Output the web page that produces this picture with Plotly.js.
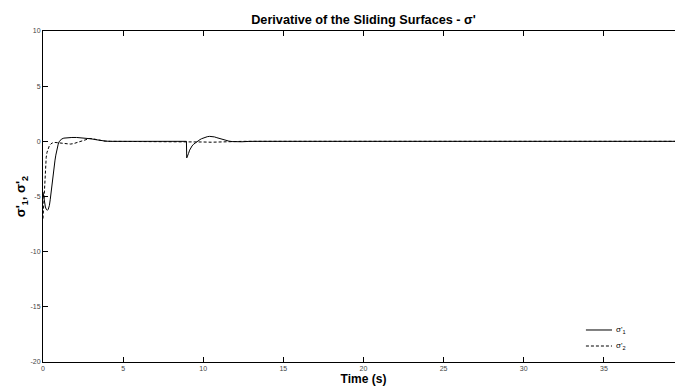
<!DOCTYPE html>
<html>
<head>
<meta charset="utf-8">
<script src="https://cdn.plot.ly/plotly-3.0.1.min.js"></script>
<style>
  html, body { margin: 0; padding: 0; overflow: hidden; background: #fff; }
  #chart { width: 700px; height: 388px; }
</style>
</head>
<body>
<div id="chart"></div>
<script>
// Derivative of the sliding surfaces over time
const t1 = [0, 0.05, 0.1, 0.15, 0.2, 0.27, 0.33, 0.4, 0.45, 0.5, 0.55, 0.6, 0.65, 0.7, 0.75, 0.8, 0.85, 0.9, 0.95, 1.0,
            1.05, 1.15, 1.3, 1.5, 1.8, 2.1, 2.4, 2.7, 3.0, 3.3, 3.6, 3.9, 4.2,
            8.95, 8.97, 9.02, 9.08, 9.15, 9.22, 9.3, 9.4, 9.5, 9.6, 9.7, 9.8, 9.9, 10.0, 10.1, 10.25, 10.4, 10.55,
            10.7, 10.85, 11.0, 11.15, 11.3, 11.45, 11.6, 11.8, 12.0, 12.4, 12.8, 13.2, 40];
const sigma1 = [-4.6, -5.2, -5.65, -5.95, -6.15, -6.25, -6.15, -5.8, -5.3, -4.6, -3.9, -3.3, -2.7, -2.2, -1.7, -1.25, -0.85, -0.52, -0.25, -0.05,
                0.08, 0.2, 0.29, 0.34, 0.35, 0.35, 0.33, 0.29, 0.23, 0.15, 0.07, 0.02, 0,
                0, -1.5, -1.35, -1.1, -0.8, -0.58, -0.42, -0.26, -0.14, -0.03, 0.07, 0.16, 0.24, 0.31, 0.36, 0.42, 0.45, 0.44,
                0.4, 0.33, 0.26, 0.19, 0.12, 0.06, 0.02, -0.02, -0.04, -0.04, -0.01, 0, 0];

const t2 = [0, 0.03, 0.06, 0.09, 0.12, 0.16, 0.2, 0.25, 0.3, 0.35, 0.4, 0.5, 0.6, 0.75, 0.9, 1.1, 1.3, 1.5, 1.7, 1.9,
            2.1, 2.3, 2.5, 2.7, 2.9, 3.1, 3.3, 3.5, 3.8, 4.2,
            9, 9.5, 10, 10.5, 11, 11.5, 12, 12.5, 40];
const sigma2 = [-7.0, -6.0, -4.8, -3.7, -2.8, -2.0, -1.45, -1.0, -0.72, -0.52, -0.38, -0.22, -0.14, -0.1, -0.12, -0.17, -0.22, -0.25, -0.25, -0.21,
                -0.12, 0.0, 0.12, 0.21, 0.25, 0.23, 0.16, 0.09, 0.03, 0,
                0, -0.03, -0.06, -0.08, -0.07, -0.05, -0.02, 0, 0];

const xTicks = [0, 5, 10, 15, 20, 25, 30, 35];
const yTicks = [-20, -15, -10, -5, 0, 5, 10];
const seriesNames = ["σ'<sub>1</sub>", "σ'<sub>2</sub>"];

const fontFamily = 'Liberation Sans, Arial, sans-serif';

const traces = [
  {
    x: t1, y: sigma1, type: 'scatter', mode: 'lines',
    name: seriesNames[0], showlegend: false,
    line: { color: '#000', width: 1 }
  },
  {
    x: t2, y: sigma2, type: 'scatter', mode: 'lines',
    name: seriesNames[1], showlegend: false,
    line: { color: '#000', width: 1, dash: '3px,2px' }
  }
];

const axisCommon = {
  showline: true, linecolor: '#000', linewidth: 1, mirror: 'ticks',
  ticks: 'inside', ticklen: 5, tickwidth: 1, tickcolor: '#000',
  showgrid: false, zeroline: false,
  tickfont: { family: fontFamily, size: 7, color: '#444' }
};

// Small key in the lower-right corner of the plot area
const keyX0 = 0.847, keyX1 = 0.8877, keyText = 0.8908;
const keyRows = [0.0967, 0.0483];
const keyDash = ['solid', 'dash'];

const shapes = keyRows.map((yy, i) => ({
  type: 'line', xref: 'paper', yref: 'paper',
  x0: keyX0, x1: keyX1, y0: yy, y1: yy,
  line: { color: '#000', width: 1, dash: keyDash[i] === 'dash' ? '3px,2px' : 'solid' }
}));

const annotations = keyRows.map((yy, i) => ({
  xref: 'paper', yref: 'paper', x: keyText, y: yy,
  xanchor: 'left', yanchor: 'middle', showarrow: false,
  text: seriesNames[i],
  font: { family: fontFamily, size: 8, color: '#000' }
}));

const layout = {
  width: 700, height: 388,
  margin: { l: 43, r: 16, t: 31, b: 26 },
  paper_bgcolor: '#fff', plot_bgcolor: '#fff',
  title: {
    text: "<b>Derivative of the Sliding Surfaces - σ'</b>",
    font: { family: fontFamily, size: 12.7, color: '#000' },
    x: 0.5, xref: 'paper', xanchor: 'center',
    y: 1 - 20 / 388, yref: 'container', yanchor: 'middle'
  },
  xaxis: Object.assign({}, axisCommon, {
    range: [0, 40], tickvals: xTicks, ticktext: xTicks.map(String),
    title: { text: '<b>Time (s)</b>', standoff: 2,
             font: { family: fontFamily, size: 12, color: '#000' } }
  }),
  yaxis: Object.assign({}, axisCommon, {
    range: [-20, 10], tickvals: yTicks, ticktext: yTicks.map(String),
    title: { text: "<b>σ'<sub>1</sub>, σ'<sub>2</sub></b>", standoff: 1,
             font: { family: fontFamily, size: 13, color: '#000' } }
  }),
  showlegend: false,
  shapes: shapes,
  annotations: annotations
};

Plotly.newPlot('chart', traces, layout, { staticPlot: true, displayModeBar: false });
</script>
</body>
</html>
